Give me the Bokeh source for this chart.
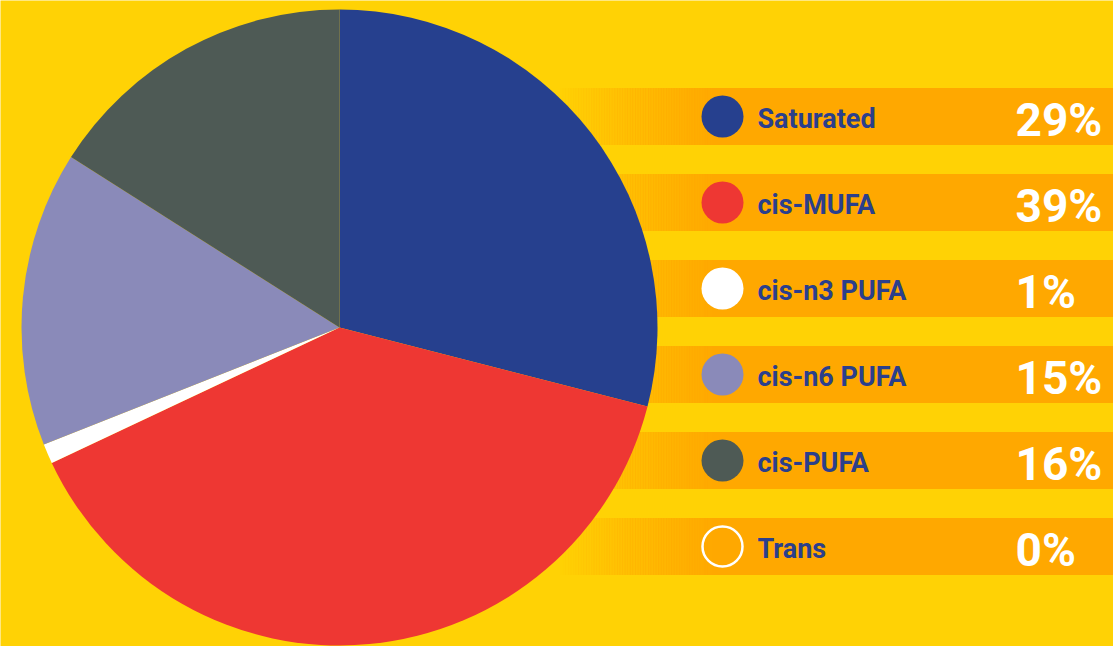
import math
from bokeh.plotting import figure
from bokeh.models import ColumnDataSource, Range1d
from bokeh.core.properties import value
from bokeh.embed import file_html
from bokeh.resources import INLINE

# ---- data ----
categories = ["Saturated", "cis-MUFA", "cis-n3 PUFA", "cis-n6 PUFA", "cis-PUFA", "Trans"]
percents = [29, 39, 1, 15, 16, 0]
labels = ["29%", "39%", "1%", "15%", "16%", "0%"]
colors = ["#26408E", "#EE3733", "#FFFFFF", "#8A8AB9", "#4E5A55", "#FFFFFF"]

# ---- layout / style ----
W, H = 1113, 646
BG = "#FFD205"
BAND = "#FFA800"
TEXT_BLUE = "#2B3F8C"
CX, CY, R = 339, H - 327, 318

p = figure(width=W, height=H, x_range=Range1d(0, W), y_range=Range1d(0, H),
           output_backend="svg", toolbar_location=None, min_border=0)
p.axis.visible = False
p.grid.visible = False
p.outline_line_color = None
p.background_fill_color = BG
p.border_fill_color = BG

# legend band rows
row_y = [H - (116 + 86 * i) for i in range(len(categories))]
band_h = 57
grad_x0, grad_x1, nstrip = 560, 715, 60
sw = (grad_x1 - grad_x0) / nstrip
sx, sy, sa = [], [], []
for yy in row_y:
    for k in range(nstrip):
        sx.append(grad_x0 + sw * (k + 0.5))
        sy.append(yy)
        sa.append((k + 1) / nstrip)
p.rect(x="x", y="y", width=sw + 0.6, height=band_h,
       source=ColumnDataSource(dict(x=sx, y=sy, a=sa)),
       fill_color=BAND, fill_alpha="a", line_color=None)
p.rect(x=[(grad_x1 + W) / 2] * len(row_y), y=row_y, width=W - grad_x1 + 1,
       height=band_h, fill_color=BAND, line_color=None)

# pie (zero-value slices are not drawn)
total = sum(percents)
starts, ends, wcol, wcat = [], [], [], []
cum = 0.0
for v, c, n in zip(percents, colors, categories):
    s = math.pi / 2 - 2 * math.pi * cum / total
    cum += v
    e = math.pi / 2 - 2 * math.pi * cum / total
    if v > 0:
        starts.append(s)
        ends.append(e)
        wcol.append(c)
        wcat.append(n)
pie_src = ColumnDataSource(dict(start=starts, end=ends, color=wcol, cat=wcat))
p.wedge(x=CX, y=CY, radius=R, start_angle="start", end_angle="end",
        direction="clock", fill_color="color", line_color=None, source=pie_src)

# legend markers
mx = 722
filled = [i for i in range(len(categories)) if categories[i] != "Trans"]
p.circle(x=[mx] * len(filled), y=[row_y[i] for i in filled], radius=21,
         fill_color=[colors[i] for i in filled], line_color=None)
trans_i = categories.index("Trans")
p.circle(x=[mx], y=[row_y[trans_i]], radius=20, fill_color=None,
         line_color="#FFFFFF", line_width=2.5)

# label texts
p.text(x=[757] * len(categories), y=[yy - 2 for yy in row_y], text=categories,
       text_font=value("Roboto"), text_font_style="bold", text_font_size="27px",
       text_color=TEXT_BLUE, text_baseline="middle", text_align="left")
p.text(x=[1015] * len(labels), y=[yy - 3 for yy in row_y], text=labels,
       text_font=value("Roboto"), text_font_style="bold", text_font_size="46px",
       text_color="#FFFFFF", text_baseline="middle", text_align="left")

open("out.html", "w").write(file_html(p, INLINE))
